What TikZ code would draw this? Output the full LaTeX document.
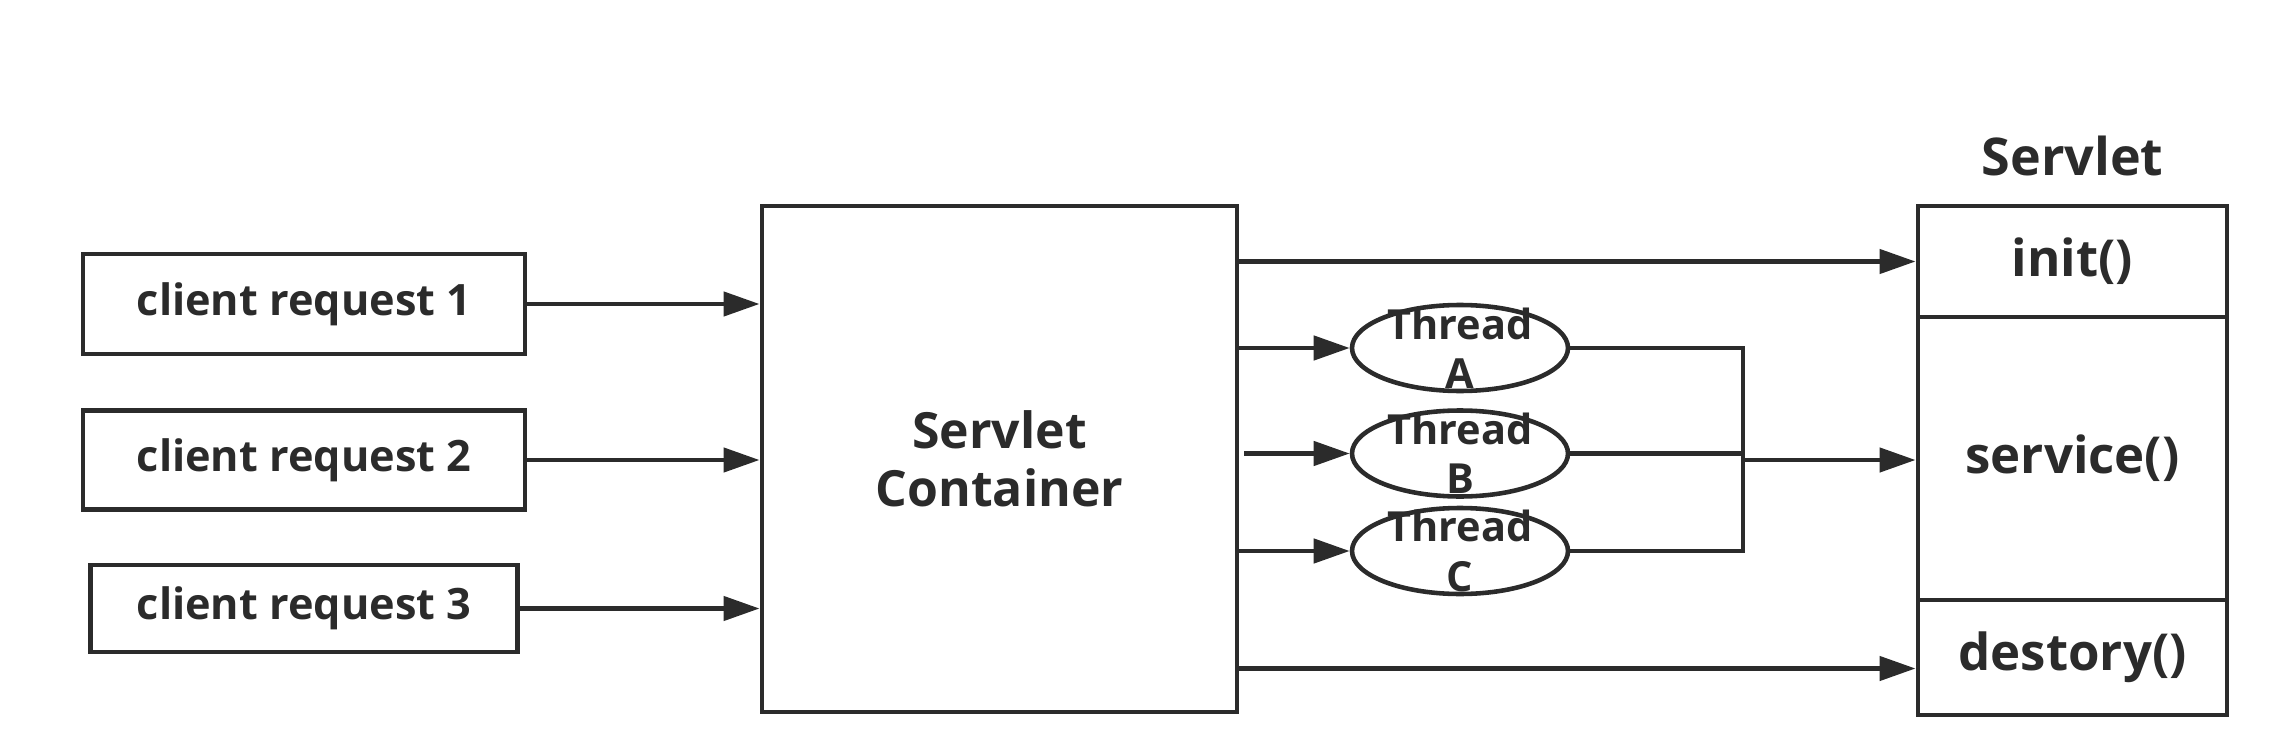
\documentclass[tikz,border=0pt]{standalone}
\usepackage{fontspec}
\setmainfont{Open Sans}
\usepackage{tikz}
\usetikzlibrary{positioning}
\usetikzlibrary{shapes.geometric}
\usetikzlibrary{arrows.meta}
\definecolor{ink}{HTML}{2B2B2B}

\begin{document}
\begin{tikzpicture}[every node/.style={text=ink, font=\bfseries},
    request/.style={rectangle, draw=ink, line width=1.4pt, minimum width=4.42cm, minimum height=1cm, font=\fontsize{12.3}{15}\bfseries},
    container/.style={rectangle, draw=ink, line width=1.4pt, minimum width=4.75cm, minimum height=5.06cm, align=center, font=\fontsize{14.2}{16.5}\bfseries},
    thread/.style={ellipse, draw=ink, line width=1.3pt, minimum width=2.16cm, minimum height=0.86cm, inner sep=0pt},
    threadtext/.style={align=center, font=\fontsize{11.8}{14}\bfseries},
    method/.style={rectangle, draw=ink, line width=1.4pt, minimum width=3.09cm, font=\fontsize{14.5}{18}\bfseries},
    arrow/.style={draw=ink, line width=1.3pt, -{Triangle[length=0.36cm, width=0.24cm]}},
    wire/.style={draw=ink, line width=1.3pt}]
    \useasboundingbox (0,0) rectangle (22.72,-7.42);
    % requests and container
    \node[request](req1) at (3.04,-3.04) {client request 1};
    \node[request, minimum height=0.99cm](req2) at (3.04,-4.60) {client request 2};
    \node[request, minimum width=4.27cm, minimum height=0.87cm](req3) at (3.04,-6.085) {client request 3};
    \node[container](container) at (9.995,-4.59) {Servlet\\Container};
    \draw[arrow] (req1.east) to (req1.east -| container.west);
    \draw[arrow] (req2.east) to (req2.east -| container.west);
    \draw[arrow] (req3.east) to (req3.east -| container.west);
    % threads
    \node[thread, label={[threadtext]center:Thread\\A}](threadA) at (14.60,-3.48) {};
    \node[thread, label={[threadtext]center:Thread\\B}](threadB) at (14.60,-4.535) {};
    \node[thread, label={[threadtext]center:Thread\\C}](threadC) at (14.60,-5.51) {};
    \draw[arrow] (container.east |- threadA.west) to (threadA.west);
    \draw[arrow] ([xshift=0.05cm]container.east |- threadB.west) to (threadB.west);
    \draw[arrow] (container.east |- threadC.west) to (threadC.west);
    % servlet
    \node[method, minimum height=1.11cm](init) at (20.725,-2.615) {init()};
    \node[method, minimum height=2.83cm](service) at (20.725,-4.585) {service()};
    \node[method, minimum height=1.15cm](destory) at (20.725,-6.575) {destory()};
    \node[font=\fontsize{14.8}{18}\bfseries](servlet) at (20.725,-1.56) {Servlet};
    \coordinate (join) at (17.43,-4.60);
    \draw[wire] (threadA.east) -| (join |- threadC.east) -- (threadC.east);
    \draw[wire] (threadB.east) -- (threadB.east -| join);
    \draw[arrow] (join) to (join -| service.west);
    \draw[arrow] (container.east |- init.west) to (init.west);
    \draw[arrow] ([yshift=-0.11cm]container.east |- destory.west) to ([yshift=-0.11cm]destory.west);
\end{tikzpicture}
\end{document}
